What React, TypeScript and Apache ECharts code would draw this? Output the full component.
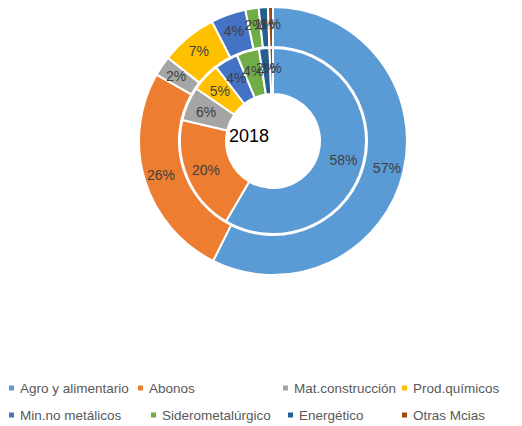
import React, { useEffect, useRef } from "react";
import * as echarts from "echarts";

const categories = [
  "Agro y alimentario",
  "Abonos",
  "Mat.construcción",
  "Prod.químicos",
  "Min.no metálicos",
  "Siderometalúrgico",
  "Energético",
  "Otras Mcias",
];
const colors = ["#5B9BD5", "#ED7D31", "#A5A5A5", "#FFC000", "#4472C4", "#70AD47", "#255E91", "#9E480E"];
const outerValues = [57.2, 25.8, 2.4, 6.8, 4.2, 1.6, 1.1, 0.6];
const innerValues = [58.2, 20.1, 5.9, 5.0, 4.1, 3.9, 1.8, 0.6];
const centerLabel = "2018";

const legendPos: [number, number][] = [
  [7, 381], [136, 381], [281, 381], [400, 381],
  [7, 408], [149, 408], [286, 408], [400, 408],
];

const FONT = "'Liberation Sans', Arial, sans-serif";

export default function App() {
  const ref = useRef<HTMLDivElement>(null);
  useEffect(() => {
    const chart = echarts.init(ref.current!, undefined, { renderer: "svg" });
    const label = {
      show: true,
      position: "inside",
      color: "#404040",
      fontSize: 14,
      fontFamily: FONT,
      formatter: (p: any) => Math.round(p.percent) + "%",
    };
    const mk = (vals: number[]) => vals.map((v, i) => ({ name: categories[i], value: v, itemStyle: { color: colors[i] } }));
    chart.setOption({
      animation: false,
      backgroundColor: "#fff",
      legend: categories.map((c, i) => ({
        data: [c],
        left: legendPos[i][0],
        top: legendPos[i][1],
        icon: "rect",
        itemWidth: 7,
        itemHeight: 7,
        itemGap: 5,
        selectedMode: false,
        padding: 0,
        textStyle: { fontSize: 13.5, color: "#595959", fontFamily: FONT },
      })),
      graphic: [
        {
          type: "text",
          left: 229,
          top: 127,
          style: { text: centerLabel, fontSize: 18, fill: "#000", fontFamily: FONT },
        },
      ],
      series: [
        {
          type: "pie",
          center: [273, 141],
          radius: [94, 134],
          startAngle: 90,
          clockwise: true,
          label,
          labelLine: { show: false },
          labelLayout: { hideOverlap: false },
          itemStyle: { borderColor: "#fff", borderWidth: 2 },
          emphasis: { disabled: true },
          data: mk(outerValues),
        },
        {
          type: "pie",
          center: [273, 141],
          radius: [47, 93],
          startAngle: 90,
          clockwise: true,
          label,
          labelLine: { show: false },
          labelLayout: { hideOverlap: false },
          itemStyle: { borderColor: "#fff", borderWidth: 2 },
          emphasis: { disabled: true },
          data: mk(innerValues),
        },
      ],
    });
    return () => chart.dispose();
  }, []);
  return <div ref={ref} style={{ position: "fixed", left: 0, top: 0, width: 522, height: 426 }} />;
}
